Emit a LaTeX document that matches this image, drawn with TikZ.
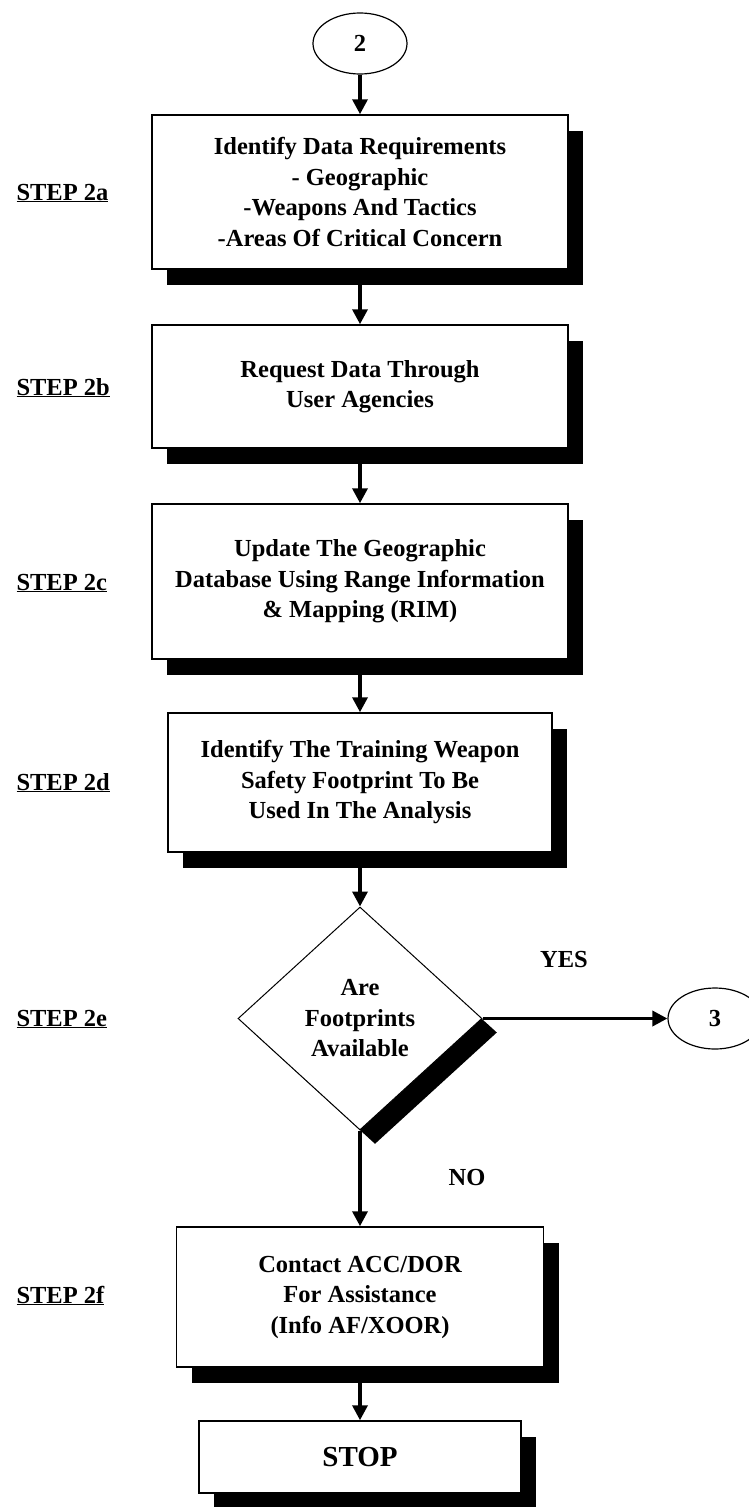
\documentclass[tikz,border=0pt]{standalone}
\usepackage{fontspec}
\setmainfont{Liberation Serif}
\usetikzlibrary{shapes.geometric,shadows,arrows.meta}
\begin{document}
\begin{tikzpicture}[
    x=1pt,y=-1pt,
    every node/.style={font=\bfseries\fontsize{24.5}{30.5}\selectfont},
    box/.style={draw,line width=1.5pt,fill=white,align=center,inner sep=0pt,minimum width=416pt,
        drop shadow={shadow xshift=15pt,shadow yshift=-16pt,opacity=1,fill=black}},
    decide/.style={diamond,draw,line width=1pt,fill=white,align=center,inner sep=0pt,
        minimum width=244pt,minimum height=223pt,
        drop shadow={shadow xshift=15pt,shadow yshift=-14pt,opacity=1,fill=black}},
    conn/.style={ellipse,draw,line width=1.2pt,minimum width=94pt,minimum height=61pt,inner sep=0pt},
    steplbl/.style={anchor=base west},
    flow/.style={->,line width=3.5pt},
    >={Triangle[length=15pt,width=15pt]}
]
\useasboundingbox (0,0) rectangle (749,1507);

\node[conn] (c2) at (360,43.5) {2};
\node[box,minimum height=154pt] (s2a) at (360,192) {Identify Data Requirements\\- Geographic\\-Weapons And Tactics\\-Areas Of Critical Concern};
\node[box,minimum height=123pt] (s2b) at (360,386.5) {Request Data Through\\User Agencies};
\node[box,minimum height=155pt] (s2c) at (360,581.5) {Update The Geographic\\Database Using Range Information\\\& Mapping (RIM)};
\node[box,minimum width=384pt,minimum height=139pt] (s2d) at (360,782.5) {Identify The Training Weapon\\Safety Footprint To Be\\Used In The Analysis};
\node[decide] (s2e) at (360,1018.5) {Are\\Footprints\\Available};
\node[conn] (c3) at (715,1018.5) {3};
\node[box,minimum width=367pt,minimum height=140pt] (s2f) at (360,1297) {Contact ACC/DOR\\For Assistance\\(Info AF/XOOR)};
\node[box,minimum width=322pt,minimum height=72pt,font=\bfseries\fontsize{29}{34}\selectfont] (stop) at (360,1457) {STOP};

\node (yes) at (564,959) {YES};
\node (no) at (467,1177) {NO};

\node[steplbl] (l2a) at (13,200) {\underline{STEP 2a}};
\node[steplbl] (l2b) at (13,395) {\underline{STEP 2b}};
\node[steplbl] (l2c) at (13,590) {\underline{STEP 2c}};
\node[steplbl] (l2d) at (13,790) {\underline{STEP 2d}};
\node[steplbl] (l2e) at (13,1026) {\underline{STEP 2e}};
\node[steplbl] (l2f) at (13,1303) {\underline{STEP 2f}};

\draw[flow] (c2)--(s2a);
\draw[flow] (s2a)--(s2b);
\draw[flow] (s2b)--(s2c);
\draw[flow] (s2c)--(s2d);
\draw[flow] (s2d)--(s2e);
\draw[flow] (s2e)--(c3);
\draw[flow] (s2e)--(s2f);
\draw[flow] (s2f)--(stop);
\end{tikzpicture}
\end{document}
